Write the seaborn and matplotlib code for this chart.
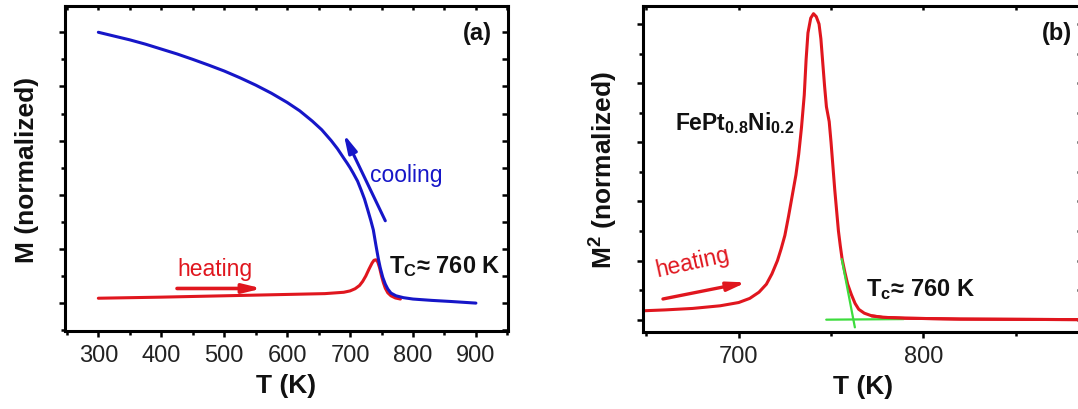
import numpy as np
import pandas as pd
import matplotlib
matplotlib.use("Agg")
import matplotlib.pyplot as plt
import seaborn as sns
from matplotlib.ticker import MultipleLocator, FixedLocator

# ---------------- data ----------------
# panel (a): cooling curve (blue)
T_cool = [300, 325, 350, 375, 400, 425, 450, 475, 500, 525, 550, 575, 600, 620,
          640, 655, 670, 680, 690, 695, 700, 705, 712, 718, 723, 728, 733, 737,
          741, 745, 748, 752, 756, 760, 765, 773, 785, 800, 830, 860, 900]
M_cool = [1.0, 0.986, 0.972, 0.956, 0.938, 0.92, 0.90, 0.879, 0.857, 0.832,
          0.805, 0.775, 0.741, 0.71, 0.672, 0.64, 0.60, 0.57, 0.535, 0.518, 0.50,
          0.48, 0.45, 0.415, 0.384, 0.345, 0.305, 0.27, 0.215, 0.163, 0.13, 0.095,
          0.07, 0.052, 0.037, 0.027, 0.02, 0.015, 0.01, 0.006, 0.0]
# panel (a): heating curve (red)
T_heat = [300, 400, 500, 600, 660, 690, 700, 708, 715, 720, 725, 730, 735, 738,
          741, 744, 747, 750, 753, 756, 760, 765, 772, 780]
M_heat = [0.018, 0.022, 0.027, 0.032, 0.035, 0.04, 0.045, 0.053, 0.065, 0.08,
          0.10, 0.125, 0.148, 0.158, 0.16, 0.152, 0.13, 0.10, 0.075, 0.055, 0.038,
          0.027, 0.019, 0.015]
# panel (b): M^2 on heating (red)
T_sq = [648, 660, 675, 690, 700, 706, 711, 715, 718, 721, 723, 725, 727, 729,
        731, 732.5, 734, 735.5, 736.5, 737.5, 739, 740.5, 742, 743.5, 744.5,
        745.5, 746.5, 747.5, 749, 750, 751, 752, 753, 754, 755, 756, 757.5, 759,
        761, 763, 765, 768, 772, 778, 790, 820, 890]
M_sq = [0.030, 0.033, 0.038, 0.047, 0.058, 0.072, 0.093, 0.12, 0.155, 0.20,
        0.24, 0.285, 0.35, 0.42, 0.49, 0.56, 0.65, 0.76, 0.88, 0.97, 1.02, 1.035,
        1.025, 1.0, 0.95, 0.87, 0.79, 0.72, 0.67, 0.60, 0.52, 0.44, 0.37, 0.30,
        0.25, 0.205, 0.16, 0.12, 0.085, 0.055, 0.035, 0.022, 0.013, 0.008, 0.005,
        0.002, 0.0]
# panel (b): tangent construction (green)
T_tan1 = [755.8, 762.9]
M_tan1 = [0.205, -0.026]
T_tan2 = [747.4, 789.3]
M_tan2 = [0.0, 0.002]

xticks_a = [300, 400, 500, 600, 700, 800, 900]
xticks_b = [700, 800, 900]

RED = "#e0161e"
BLUE = "#1616c8"
GREEN = "#3ddc3d"

# ---------------- style ----------------
sns.set_theme(style="ticks")
plt.rcParams["font.family"] = ["Liberation Sans", "DejaVu Sans"]
plt.rcParams["mathtext.fontset"] = "custom"
plt.rcParams["mathtext.rm"] = "Liberation Sans"
plt.rcParams["mathtext.it"] = "Liberation Sans:italic"
plt.rcParams["mathtext.bf"] = "Liberation Sans:bold"
plt.rcParams["lines.solid_joinstyle"] = "round"
plt.rcParams["lines.solid_capstyle"] = "round"

W, H = 1078, 410
fig = plt.figure(figsize=(W / 100, H / 100), dpi=100)

def px_axes(l, r, t, b):
    return fig.add_axes([l / W, (H - b) / H, (r - l) / W, (b - t) / H])

axA = px_axes(65, 508, 7, 332)
axB = px_axes(643, 1083, 7, 332.5)

df_cool = pd.DataFrame({"T": T_cool, "M": M_cool})
df_heat = pd.DataFrame({"T": T_heat, "M": M_heat})
df_sq = pd.DataFrame({"T": T_sq, "M2": M_sq})

# panel (a)
sns.lineplot(data=df_heat, x="T", y="M", ax=axA, color=RED, lw=2.2, sort=False)
sns.lineplot(data=df_cool, x="T", y="M", ax=axA, color=BLUE, lw=2.2, sort=False)

# panel (b)
sns.lineplot(data=df_sq, x="T", y="M2", ax=axB, color=RED, lw=2.2, sort=False)
sns.lineplot(x=T_tan1, y=M_tan1, ax=axB, color=GREEN, lw=1.6)
sns.lineplot(x=T_tan2, y=M_tan2, ax=axB, color=GREEN, lw=1.6)
# redraw red on top of the horizontal green near the tail
sns.lineplot(data=df_sq[df_sq["T"] >= 772], x="T", y="M2", ax=axB, color=RED,
             lw=2.2, sort=False)

# ---------------- axes formatting ----------------
def style_axis(ax, xlim, ylim, xt, xminor, ymajor, yminor):
    ax.set_xlim(*xlim)
    ax.set_ylim(*ylim)
    ax.xaxis.set_major_locator(FixedLocator(xt))
    ax.xaxis.set_minor_locator(MultipleLocator(xminor))
    ax.yaxis.set_major_locator(MultipleLocator(ymajor))
    ax.yaxis.set_minor_locator(MultipleLocator(yminor))
    for s in ax.spines.values():
        s.set_visible(True)
        s.set_linewidth(2.2)
        s.set_color("black")
    ax.tick_params(axis="both", which="both", colors="black", width=1.8,
                   labelsize=17, labelcolor="#222222")
    ax.tick_params(axis="x", which="major", direction="out", length=4.5, pad=5,
                   top=True, bottom=True)
    ax.tick_params(axis="x", which="minor", direction="out", length=3,
                   top=True, bottom=True)
    ax.tick_params(axis="y", which="major", direction="out", length=4.5,
                   left=True, right=True, labelleft=False)
    ax.tick_params(axis="y", which="minor", direction="out", length=3,
                   left=True, right=True, labelleft=False)
    # inward ticks on top and right
    for t in ax.xaxis.get_major_ticks() + ax.xaxis.get_minor_ticks():
        t.tick2line.set_marker(matplotlib.lines.TICKDOWN)
        t.tick2line.set_markersize(3)
    for t in ax.yaxis.get_major_ticks() + ax.yaxis.get_minor_ticks():
        t.tick2line.set_marker(matplotlib.lines.TICKLEFT)
        t.tick2line.set_markersize(4)
    ax.grid(False)

style_axis(axA, (247, 951), (-0.103, 1.097), xticks_a, 50, 0.2, 0.1)
style_axis(axB, (648.2, 886.4), (-0.04, 1.061), xticks_b, 50, 0.2, 0.1)

lab_kw = dict(fontsize=19, fontweight="bold", color="#111111")
axA.set_xlabel("T (K)", **lab_kw)
axA.set_ylabel("M (normalized)", **lab_kw)
axB.set_xlabel("T (K)", **lab_kw)
axB.set_ylabel(r"M$^{\mathbf{2}}$ (normalized)", **lab_kw)
axA.xaxis.set_label_coords(0.5, -0.13)
axB.xaxis.set_label_coords(0.5, -0.13)
axA.yaxis.set_label_coords(-0.059, 0.5)
axB.yaxis.set_label_coords(-0.052, 0.5)

# ---------------- annotations (a) ----------------
axA.text(926, 1.0, "(a)", fontsize=17, fontweight="bold", ha="right", va="center",
         color="#111111")
axA.text(425, 0.126, "heating", fontsize=16.5, color=RED, ha="left", va="center")
axA.annotate("", xy=(560, 0.054), xytext=(425, 0.054),
             arrowprops=dict(arrowstyle="-|>,head_length=0.9,head_width=0.22",
                             color=RED, lw=2.6, shrinkA=0, shrinkB=0))
axA.text(732, 0.475, "cooling", fontsize=16.5, color=BLUE, ha="left", va="center")
axA.annotate("", xy=(690, 0.624), xytext=(756, 0.304),
             arrowprops=dict(arrowstyle="-|>,head_length=0.9,head_width=0.22",
                             color=BLUE, lw=2.2, shrinkA=0, shrinkB=0))
axA.text(762, 0.138, r"T$_{\mathbf{C}}$≈ 760 K", fontsize=17, fontweight="bold",
         ha="left", va="center", color="#111111")

# ---------------- annotations (b) ----------------
axB.text(864, 0.972, "(b)", fontsize=17, fontweight="bold", ha="left", va="center",
         color="#111111")
axB.text(665.5, 0.667, r"FePt$_{\mathbf{0.8}}$Ni$_{\mathbf{0.2}}$", fontsize=16.5,
         fontweight="bold", ha="left", va="center", color="#111111")
axB.text(675, 0.195, "heating", fontsize=16.5, color=RED, ha="center", va="center",
         rotation=12.5, rotation_mode="anchor")
axB.annotate("", xy=(704, 0.126), xytext=(659, 0.07),
             arrowprops=dict(arrowstyle="-|>,head_length=0.9,head_width=0.22",
                             color=RED, lw=2.4, shrinkA=0, shrinkB=0))
axB.text(769, 0.104, r"T$_{\mathbf{c}}$≈ 760 K", fontsize=17, fontweight="bold",
         ha="left", va="center", color="#111111")

fig.savefig("out.png", dpi=100)
